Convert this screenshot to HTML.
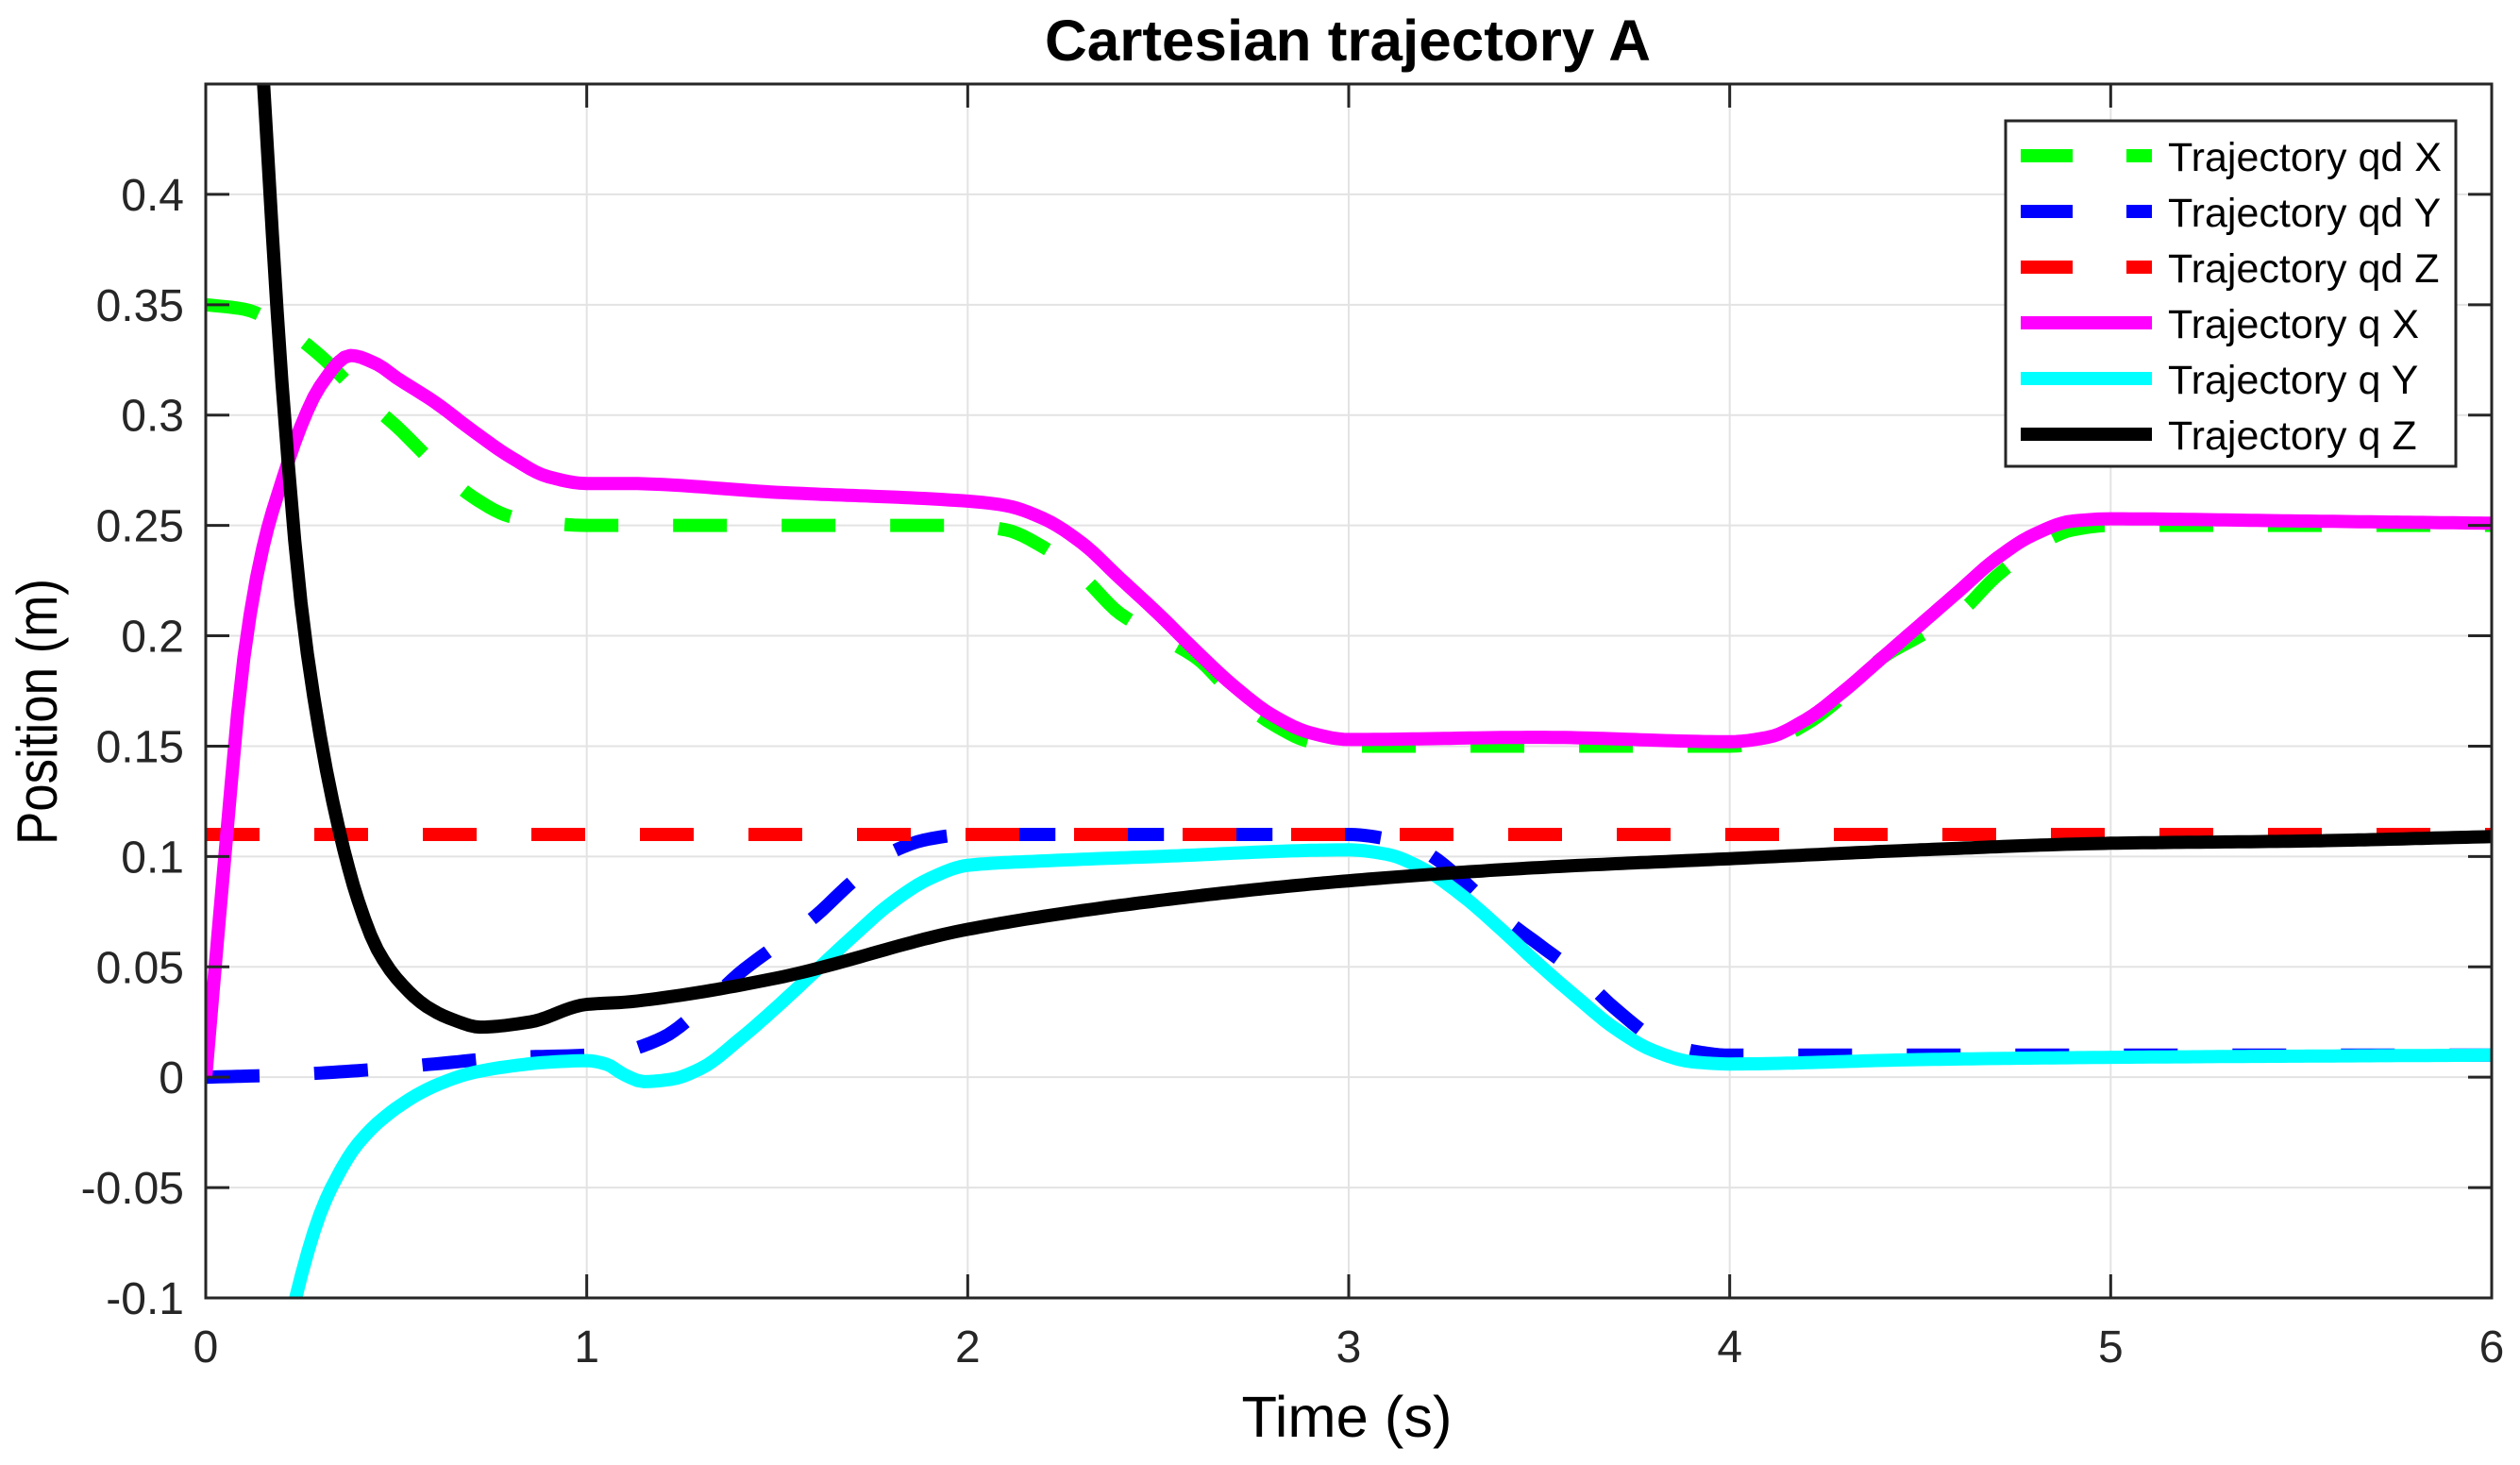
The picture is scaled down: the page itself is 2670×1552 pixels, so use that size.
<!DOCTYPE html>
<html><head><meta charset="utf-8"><style>
html,body{margin:0;padding:0;background:#fff;}
svg{display:block;}
text{font-family:"Liberation Sans",Arial,sans-serif;}
</style></head><body>
<svg id="chart" width="2670" height="1552" viewBox="0 0 2670 1552" xmlns="http://www.w3.org/2000/svg">
<defs><clipPath id="plotclip"><rect x="218" y="89" width="2422" height="1286"/></clipPath></defs>
<rect width="2670" height="1552" fill="#fff"/>
<g id="grid"></g>
<g id="series" clip-path="url(#plotclip)"></g>
<g id="axes"></g>
<text x="1428" y="64" text-anchor="middle" font-size="61" font-weight="bold" fill="#000" textLength="642" lengthAdjust="spacingAndGlyphs">Cartesian trajectory A</text>
<text x="1427" y="1522" text-anchor="middle" font-size="61" fill="#000" textLength="223" lengthAdjust="spacingAndGlyphs">Time (s)</text>
<text transform="translate(60,754) rotate(-90)" text-anchor="middle" font-size="60" fill="#000" textLength="282" lengthAdjust="spacingAndGlyphs">Position (m)</text>
<g id="legend"></g>
</svg>
<script>
const xTicks=[0,1,2,3,4,5,6];
const xTickLabels=["0","1","2","3","4","5","6"];
const yTicks=[-0.1,-0.05,0,0.05,0.1,0.15,0.2,0.25,0.3,0.35,0.4];
const yTickLabels=["-0.1","-0.05","0","0.05","0.1","0.15","0.2","0.25","0.3","0.35","0.4"];
const seriesNames=["Trajectory qd X","Trajectory qd Y","Trajectory qd Z","Trajectory q X","Trajectory q Y","Trajectory q Z"];

const qdX_t=[0,0.1,0.2,0.3,0.4,0.5,0.6,0.7,0.8,0.9,1,2,2.1,2.2,2.3,2.4,2.5,2.6,2.7,2.8,2.9,3,4,4.1,4.2,4.3,4.4,4.5,4.6,4.7,4.8,4.9,5,6];
const qdX_v=[0.35,0.348,0.34,0.327,0.31,0.295,0.278,0.263,0.254,0.251,0.25,0.25,0.248,0.24,0.227,0.21,0.2,0.19,0.173,0.16,0.152,0.15,0.15,0.152,0.16,0.173,0.19,0.2,0.21,0.227,0.24,0.248,0.25,0.25];
const qdY_t=[0,0.2,0.4,0.6,0.8,1,1.1,1.2,1.3,1.4,1.5,1.6,1.7,1.8,1.9,2,3,3.1,3.2,3.3,3.4,3.5,3.6,3.7,3.8,3.9,4,6];
const qdY_v=[0,0.001,0.003,0.006,0.009,0.01,0.012,0.018,0.031,0.047,0.06,0.073,0.089,0.102,0.108,0.11,0.11,0.108,0.102,0.089,0.073,0.06,0.047,0.031,0.018,0.012,0.01,0.01];
const qdZ_t=[0,6];
const qdZ_v=[0.11,0.11];
const qX_t=[0,0.05,0.1,0.15,0.2,0.25,0.3,0.38,0.45,0.5,0.6,0.7,0.8,0.9,1,1.1,1.5,2,2.1,2.2,2.3,2.4,2.5,2.6,2.7,2.8,2.9,3,3.5,4,4.1,4.2,4.3,4.4,4.5,4.6,4.7,4.8,4.9,5,5.5,6];
const qX_v=[0,0.1,0.19,0.24,0.27,0.295,0.313,0.327,0.323,0.317,0.306,0.293,0.281,0.272,0.269,0.269,0.265,0.261,0.259,0.253,0.242,0.226,0.21,0.193,0.177,0.164,0.156,0.153,0.154,0.152,0.154,0.162,0.175,0.19,0.205,0.22,0.235,0.246,0.252,0.253,0.252,0.251];
const qY_t=[0.2,0.236,0.3,0.33,0.4,0.5,0.6,0.7,0.8,0.9,1,1.05,1.1,1.15,1.22,1.3,1.4,1.5,1.6,1.7,1.8,1.9,2,2.2,2.5,3,3.1,3.2,3.3,3.4,3.5,3.6,3.7,3.8,3.9,4,4.5,5,6];
const qY_v=[-0.13,-0.1,-0.062,-0.05,-0.03,-0.014,-0.004,0.002,0.005,0.0068,0.0075,0.006,0.001,-0.002,-0.001,0.004,0.017,0.032,0.048,0.064,0.079,0.09,0.096,0.098,0.1,0.103,0.101,0.094,0.082,0.067,0.051,0.036,0.022,0.012,0.007,0.006,0.008,0.009,0.01];
const qZ_t=[0.1,0.15,0.2,0.25,0.3,0.35,0.4,0.45,0.5,0.58,0.65,0.72,0.85,1.0,1.1,1.2,1.5,2,2.5,3,3.5,4,4.5,5,5.5,6];
const qZ_v=[0.6,0.455,0.315,0.215,0.155,0.112,0.08,0.058,0.045,0.032,0.026,0.0227,0.025,0.033,0.034,0.036,0.045,0.067,0.08,0.089,0.095,0.099,0.103,0.106,0.107,0.109];

const NS="http://www.w3.org/2000/svg";
const L=218,R=2640,T=89,B=1375,X0=0,X1=6,Y0=-0.1,Y1=0.45;
function sx(t){return L+(t-X0)/(X1-X0)*(R-L);}
function sy(v){return B-(v-Y0)/(Y1-Y0)*(B-T);}
function mk(tag,attrs,parent){const e=document.createElementNS(NS,tag);for(const k in attrs)e.setAttribute(k,attrs[k]);parent.appendChild(e);return e;}
const grid=document.getElementById('grid'),axes=document.getElementById('axes'),series=document.getElementById('series'),legend=document.getElementById('legend');

xTicks.forEach((t,i)=>{
  const g=mk('line',{x1:sx(t),x2:sx(t),y1:T,y2:B,stroke:'#e3e3e3','stroke-width':2},grid);
  
  
  const a=mk('line',{x1:sx(t),x2:sx(t),y1:B,y2:B-25,stroke:'#262626','stroke-width':3},axes);
  
  
  const b=mk('line',{x1:sx(t),x2:sx(t),y1:T,y2:T+25,stroke:'#262626','stroke-width':3},axes);
  
  
  const tx=mk('text',{x:sx(t),y:1443,'text-anchor':'middle','font-size':48,fill:'#262626'},axes);
  tx.textContent=xTickLabels[i];
  
  
});
yTicks.forEach((v,i)=>{
  const g=mk('line',{x1:L,x2:R,y1:sy(v),y2:sy(v),stroke:'#e3e3e3','stroke-width':2},grid);
  
  
  const a=mk('line',{x1:L,x2:L+25,y1:sy(v),y2:sy(v),stroke:'#262626','stroke-width':3},axes);
  
  
  const b=mk('line',{x1:R,x2:R-25,y1:sy(v),y2:sy(v),stroke:'#262626','stroke-width':3},axes);
  
  
  const tx=mk('text',{x:195,y:sy(v)+17,'text-anchor':'end','font-size':48,fill:'#262626'},axes);
  tx.textContent=yTickLabels[i];
  
  
});
const box=mk('rect',{x:L,y:T,width:R-L,height:B-T,fill:'none',stroke:'#262626','stroke-width':3},axes);



function pathD(ts,vs){
  const n=ts.length;
  if(n<3){return 'M'+sx(ts[0])+','+sy(vs[0])+' L'+sx(ts[n-1])+','+sy(vs[n-1]);}
  const d=[],m=new Array(n);
  for(let i=0;i<n-1;i++)d.push((vs[i+1]-vs[i])/(ts[i+1]-ts[i]));
  m[0]=d[0];m[n-1]=d[n-2];
  for(let i=1;i<n-1;i++){
    if(d[i-1]*d[i]<=0)m[i]=0;
    else{const h0=ts[i]-ts[i-1],h1=ts[i+1]-ts[i];const w1=2*h1+h0,w2=h1+2*h0;m[i]=(w1+w2)/(w1/d[i-1]+w2/d[i]);}
  }
  let s='M'+sx(ts[0]).toFixed(1)+','+sy(vs[0]).toFixed(1);
  for(let i=0;i<n-1;i++){
    const h=ts[i+1]-ts[i],steps=Math.max(2,Math.ceil(h*60));
    for(let k=1;k<=steps;k++){
      const u=k/steps,u2=u*u,u3=u2*u;
      const v=(2*u3-3*u2+1)*vs[i]+(u3-2*u2+u)*h*m[i]+(-2*u3+3*u2)*vs[i+1]+(u3-u2)*h*m[i+1];
      s+=' L'+sx(ts[i]+u*h).toFixed(1)+','+sy(v).toFixed(1);
    }
  }
  return s;
}
const defs=[
 [qdX_t,qdX_v,'#00ff00',true,'series-qd-x'],
 [qdY_t,qdY_v,'#0000ff',true,'series-qd-y'],
 [qdZ_t,qdZ_v,'#ff0000',true,'series-qd-z'],
 [qX_t,qX_v,'#ff00ff',false,'series-q-x'],
 [qY_t,qY_v,'#00ffff',false,'series-q-y'],
 [qZ_t,qZ_v,'#000000',false,'series-q-z']
];
defs.forEach(s=>{
  const a={d:pathD(s[0],s[1]),fill:'none',stroke:s[2],'stroke-width':14,'stroke-linejoin':'round'};
  if(s[3])a['stroke-dasharray']='57 58';
  const p=mk('path',a,series);
  
  
});
const lb=mk('rect',{x:2125,y:128,width:477,height:366,fill:'#fff',stroke:'#262626','stroke-width':3},legend);


defs.forEach((s,i)=>{
  const y=165+i*59;
  const a={x1:2141,x2:2280,y1:y,y2:y,stroke:s[2],'stroke-width':14};
  if(s[3])a['stroke-dasharray']='55 57';
  const l=mk('line',a,legend);
  
  
  const tx=mk('text',{x:2297,y:y+16,'font-size':43,fill:'#000'},legend);
  tx.textContent=seriesNames[i];
  
  
});
</script>
</body></html>
